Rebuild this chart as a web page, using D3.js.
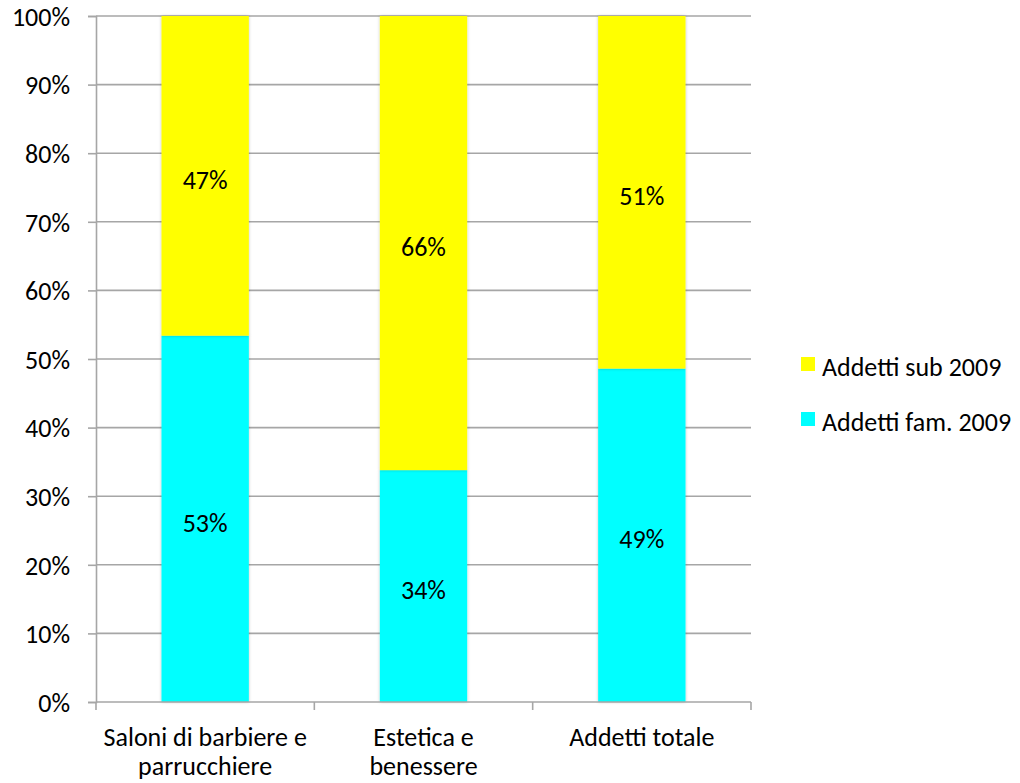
<!DOCTYPE html>
<html>
<head>
<meta charset="utf-8">
<script src="https://cdn.jsdelivr.net/npm/d3@7/dist/d3.min.js"></script>
<style>
  html, body { margin: 0; padding: 0; background: #fff; }
  svg text { font-family: Carlito, Calibri, Lato, sans-serif; fill: #000; }
</style>
</head>
<body>
<svg id="chart" width="1020" height="783"></svg>
<script>
// Categories (two-line labels) and the share of each workforce type
const categories = ["Saloni di barbiere e\nparrucchiere", "Estetica e\nbenessere", "Addetti totale"];
const famValues = [0.534, 0.338, 0.486];   // Addetti fam. 2009
const subValues = [0.466, 0.662, 0.514];   // Addetti sub 2009
const seriesNames = ["Addetti fam. 2009", "Addetti sub 2009"];
const seriesColors = ["#00ffff", "#ffff00"];
const yTicks = [0, 0.1, 0.2, 0.3, 0.4, 0.5, 0.6, 0.7, 0.8, 0.9, 1.0];

const FONT = 26;
const svg = d3.select("#chart");
const margin = { left: 96, right: 269, top: 16, bottom: 81 };
const W = 1020, H = 783;

const x = d3.scaleBand()
  .domain(categories)
  .range([margin.left, W - margin.right])
  .paddingInner(0.6)
  .paddingOuter(0.3);

const y = d3.scaleLinear().domain([0, 1]).range([H - margin.bottom, margin.top]);

const defs = svg.append("defs");
const f = defs.append("filter").attr("id", "shadow").attr("x", "-20%").attr("y", "-5%").attr("width", "140%").attr("height", "110%");
f.append("feDropShadow").attr("dx", 0).attr("dy", 0).attr("stdDeviation", 1.5).attr("flood-color", "#000").attr("flood-opacity", 0.25);

// Gridlines
svg.append("g")
  .selectAll("line")
  .data(yTicks.slice(1))
  .join("line")
  .attr("x1", margin.left).attr("x2", W - margin.right)
  .attr("y1", d => y(d)).attr("y2", d => y(d))
  .attr("stroke", "#a6a6a6").attr("stroke-width", 1.6);

// Stacked bars
const rows = categories.map((c, i) => ({ cat: c, fam: famValues[i], sub: subValues[i] }));
const stack = d3.stack().keys(["fam", "sub"])(rows);

const layers = svg.append("g").selectAll("g")
  .data(stack)
  .join("g")
  .attr("fill", (d, i) => seriesColors[i]);

layers.selectAll("rect")
  .data(d => d)
  .join("rect")
  .attr("x", d => x(d.data.cat))
  .attr("width", x.bandwidth())
  .attr("y", d => y(d[1]))
  .attr("height", d => y(d[0]) - y(d[1]))
  .attr("filter", "url(#shadow)");

// Value labels
const fmt = d3.format(".0%");
layers.selectAll("text")
  .data(d => d)
  .join("text")
  .attr("x", d => x(d.data.cat) + x.bandwidth() / 2)
  .attr("y", d => (y(d[0]) + y(d[1])) / 2 + 4)
  .attr("text-anchor", "middle")
  .attr("dominant-baseline", "central")
  .attr("font-size", FONT)
  .attr("fill", "#000")
  .text(d => fmt(d[1] - d[0]));

// Y axis
const yAxis = d3.axisLeft(y).tickValues(yTicks).tickFormat(d3.format(".0%")).tickSize(8).tickPadding(18);
const gy = svg.append("g").attr("transform", `translate(${margin.left},0)`).call(yAxis);
gy.attr("font-size", FONT).attr("font-family", null);
gy.select(".domain").attr("stroke", "#a6a6a6").attr("stroke-width", 1.6);
gy.selectAll(".tick line").attr("stroke", "#a6a6a6").attr("stroke-width", 1.6);
gy.selectAll(".tick text").attr("font-size", FONT).attr("fill", "#000").attr("dy", "0.36em");

// X axis with ticks at category boundaries
const gx = svg.append("g").attr("transform", `translate(0,${H - margin.bottom})`);
gx.append("line")
  .attr("x1", margin.left).attr("x2", W - margin.right)
  .attr("stroke", "#a6a6a6").attr("stroke-width", 1.6);
const bounds = d3.range(categories.length + 1).map(i => margin.left + i * (W - margin.right - margin.left) / categories.length);
gx.selectAll("line.tk")
  .data(bounds)
  .join("line")
  .attr("class", "tk")
  .attr("x1", d => d).attr("x2", d => d)
  .attr("y1", 0).attr("y2", 8)
  .attr("stroke", "#a6a6a6").attr("stroke-width", 1.6);

const xl = gx.selectAll("text.cat")
  .data(categories)
  .join("text")
  .attr("class", "cat")
  .attr("text-anchor", "middle")
  .attr("font-size", FONT)
  .attr("transform", d => `translate(${x(d) + x.bandwidth() / 2},44)`);
xl.selectAll("tspan")
  .data(d => d.split("\n"))
  .join("tspan")
  .attr("x", 0)
  .attr("dy", (d, i) => i === 0 ? 0 : 29)
  .text(d => d);

// Legend (sub on top, fam below)
const legendOrder = [1, 0];
const lg = svg.append("g").selectAll("g")
  .data(legendOrder)
  .join("g")
  .attr("transform", (d, i) => `translate(801,${357 + i * 55})`);
lg.append("rect").attr("width", 14).attr("height", 14).attr("fill", d => seriesColors[d]);
lg.append("text").attr("x", 21).attr("y", 19).attr("font-size", FONT).text(d => seriesNames[d]);
</script>
</body>
</html>
